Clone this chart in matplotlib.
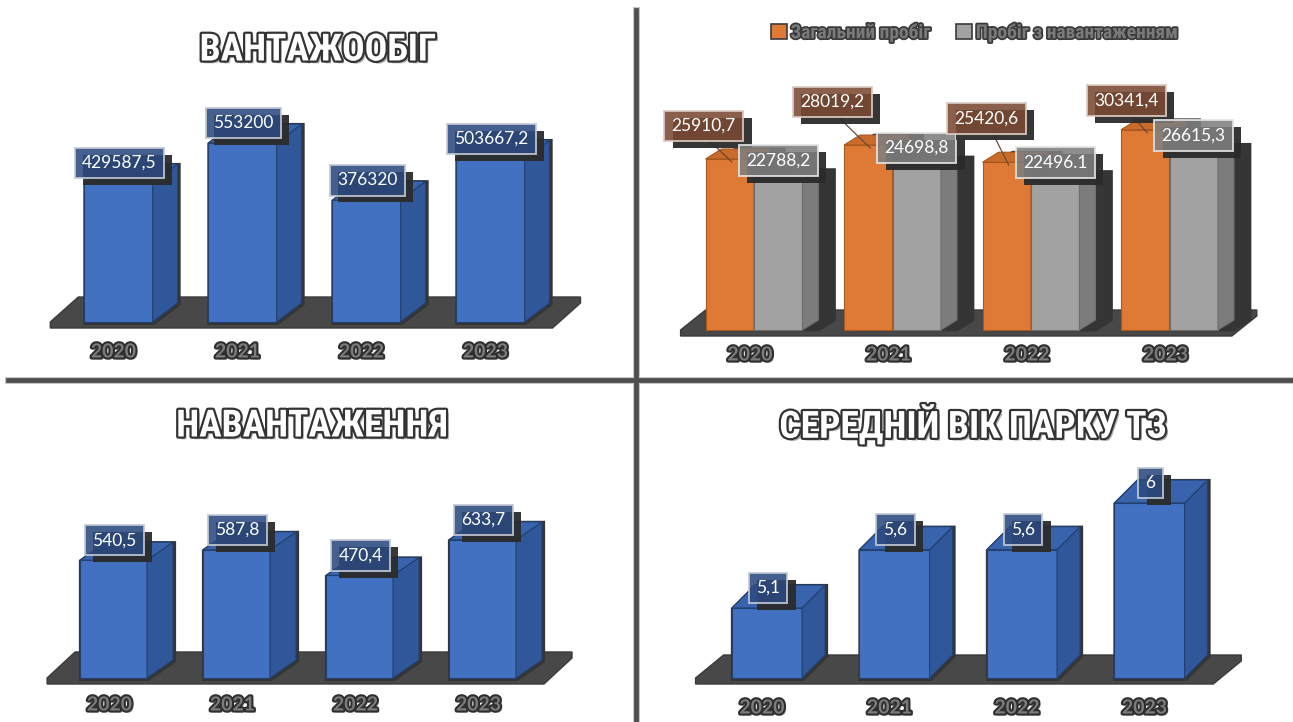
import matplotlib
matplotlib.use("Agg")
import matplotlib.pyplot as plt
import matplotlib.patheffects as pe
from matplotlib.patches import Polygon, Patch
from matplotlib.lines import Line2D
from matplotlib.transforms import offset_copy

# --- data -------------------------------------------------------------
years = ["2020", "2021", "2022", "2023"]

cargo_turnover = [429587.5, 553200, 376320, 503667.2]
cargo_labels = ["429587,5", "553200", "376320", "503667,2"]

total_mileage = [25910.7, 28019.2, 25420.6, 30341.4]
total_labels = ["25910,7", "28019,2", "25420,6", "30341,4"]
loaded_mileage = [22788.2, 24698.8, 22496.1, 26615.3]
loaded_labels = ["22788,2", "24698,8", "22496.1", "26615,3"]
series_names = ["Загальний пробіг", "Пробіг з навантаженням"]

load_volume = [540.5, 587.8, 470.4, 633.7]
load_labels = ["540,5", "587,8", "470,4", "633,7"]

fleet_age = [5.1, 5.6, 5.6, 6]
age_labels = ["5,1", "5,6", "5,6", "6"]

# --- styling ----------------------------------------------------------
W, H = 1293, 722
CYR = ["Roboto Condensed", "Roboto", "DejaVu Sans"]
NUM = ["Lato", "DejaVu Sans"]
PT = 0.72  # points per pixel at dpi=100

BLUE = ("#4371c1", "#30579a", "#3a63ad", "#22406f")
ORANGE = ("#de7a35", "#b45c22", "#c96b2b", "#a9561f")
GREY = ("#a2a2a2", "#7c7c7c", "#8d8d8d", "#6e6e6e")

fig = plt.figure(figsize=(W / 100, H / 100), dpi=100)
fig.patch.set_facecolor("white")


def panel_axes(c0, step, base, ppv, y0=0.0):
    """Full-figure axes: category 0 sits at pixel c0, baseline value y0 at pixel row base."""
    ax = fig.add_axes([0, 0, 1, 1])
    ax.set_axis_off()
    ax.patch.set_alpha(0)
    ax.set_xlim(-c0 / step, (W - c0) / step)
    b = H - base
    ax.set_ylim(y0 - b / ppv, y0 + (H - b) / ppv)
    return ax, 1.0 / step, 1.0 / ppv


def shifted(ax, dx, dy):
    return offset_copy(ax.transData, fig=fig, x=dx, y=dy, units="dots")


def floor(ax, sx, sy, y0, left, right, depth, thick=6):
    fdx, fdy = depth[0] * sx, depth[1] * sy
    t = thick * sy
    pts = [(left, y0 - t), (right, y0 - t), (right + fdx, y0 + fdy - t),
           (right + fdx, y0 + fdy), (left + fdx, y0 + fdy), (left, y0)]
    ax.add_patch(Polygon(pts, closed=True, fc="#484848", ec="#3a3a3a", lw=1, zorder=1))


def bar3d(ax, sx, sy, x, val, y0, width, depth, colors, shadow=(1, -1), shadow_lw=3):
    front, side, top, edge = colors
    dx, dy = depth[0] * sx, depth[1] * sy
    x0, x1 = x - width / 2, x + width / 2
    outline = [(x0, y0), (x1, y0), (x1 + dx, y0 + dy), (x1 + dx, val + dy),
               (x0 + dx, val + dy), (x0, val)]
    ax.add_patch(Polygon(outline, closed=True, fc="#353535", ec="#353535", lw=shadow_lw,
                         transform=shifted(ax, *shadow), zorder=2))
    ax.bar(x, val - y0, width, bottom=y0, color=front, edgecolor=edge, lw=0.8, zorder=3)
    ax.add_patch(Polygon([(x1, y0), (x1 + dx, y0 + dy), (x1 + dx, val + dy), (x1, val)],
                         closed=True, fc=side, ec=edge, lw=0.8, zorder=3))
    ax.add_patch(Polygon([(x0, val), (x1, val), (x1 + dx, val + dy), (x0 + dx, val + dy)],
                         closed=True, fc=top, ec=edge, lw=0.8, zorder=3))


def tag(ax, x, y, text, face, edge, shift=(1, 12), size=12.5):
    sx, sy = shift
    ann = ax.annotate(text, xy=(x, y), xytext=(sx * PT, sy * PT), textcoords="offset points",
                      ha="center", va="bottom", fontsize=size, family=NUM, color="white",
                      zorder=6, annotation_clip=False,
                      bbox=dict(boxstyle="square,pad=0.42", fc=face, ec=edge, lw=1.4, alpha=0.88))
    # dark drop shadow under the tag box
    ann.get_bbox_patch().set_path_effects([
        pe.SimplePatchShadow(offset=(6, -5), shadow_rgbFace="#2b2b2b", alpha=0.95),
        pe.Normal()])


def year_labels(ax, sy, y0, xs, below=30):
    for x, yr in zip(xs, years):
        ax.text(x, y0 - below * sy, yr, ha="center", va="center", fontsize=14,
                family=NUM, weight="bold", color="#7c7c7c", zorder=4,
                path_effects=[pe.SimplePatchShadow(offset=(1.5, -1.5), shadow_rgbFace="#999", alpha=0.7),
                              pe.Stroke(linewidth=3, foreground="#2e2e2e"), pe.Normal()])


def title(x, y, text):
    fig.text(x / W, 1 - y / H, text, ha="center", va="center", fontsize=27,
             family=CYR, weight="bold", color="white",
             path_effects=[pe.SimplePatchShadow(offset=(2, -2), shadow_rgbFace="#9a9a9a", alpha=0.8),
                           pe.Stroke(linewidth=3.2, foreground="#333333"), pe.Normal()])


xs = list(range(len(years)))

# --- ВАНТАЖООБІГ --------------------------------------------------------
ax1, sx1, sy1 = panel_axes(118.5, 124, 322, 179 / 553200)
floor(ax1, sx1, sy1, 0, -0.55, 3.5, (28, 25))
for x, v, lab in zip(xs, cargo_turnover, cargo_labels):
    bar3d(ax1, sx1, sy1, x, v, 0, 0.55, (25, 19), BLUE)
    tag(ax1, x, v, lab, "#2b4a80", "#c3c9d4")
year_labels(ax1, sy1, 0, [x - 5 * sx1 for x in xs])
title(318, 50, "ВАНТАЖООБІГ")

# --- пробіг -------------------------------------------------------------
ax2, sx2, sy2 = panel_axes(754, 138.5, 330, 0.0066)
floor(ax2, sx2, sy2, 0, -0.53, 3.45, (25, 20))
bw = 0.35
orange_shift = [(-26, 25), (-36, 35), (-20, 36), (-19, 21)]
for x, v1, v2, l1, l2, sh in zip(xs, total_mileage, loaded_mileage, total_labels, loaded_labels, orange_shift):
    bar3d(ax2, sx2, sy2, x - bw / 2, v1, 0, bw, (16, 10), ORANGE, shadow=(14, 0), shadow_lw=2)
    bar3d(ax2, sx2, sy2, x + bw / 2, v2, 0, bw, (16, 10), GREY, shadow=(16, 0), shadow_lw=2)
    # leader line from the orange tag down to its bar
    lx = x - bw / 2
    ax2.plot([lx + (sh[0] + 6) * sx2, lx + 2 * sx2], [v1 + (sh[1] - 7) * sy2, v1 - 3 * sy2],
             color="#6a4a3c", lw=0.9, zorder=4.5)
    tag(ax2, lx, v1, l1, "#7a4a33", "#dccbc2", shift=sh)
    tag(ax2, x + bw / 2, v2, l2, "#7f7f7f", "#e4e4e4", shift=(0, 11))
year_labels(ax2, sy2, 0, [x - 4 * sx2 for x in xs], below=25)

handles = [Patch(fc=ORANGE[0], ec="#3a3a3a", lw=1.2), Patch(fc=GREY[0], ec="#3a3a3a", lw=1.2)]
leg = fig.legend(handles, series_names, loc="center", bbox_to_anchor=(975 / W, 1 - 33 / H),
                 ncol=2, frameon=False, handlelength=0.8, handleheight=0.8,
                 handletextpad=0.2, columnspacing=1.3,
                 prop=dict(family=CYR, weight="bold", size=14))
for t in leg.get_texts():
    t.set_color("#7a7a7a")
    t.set_path_effects([pe.Stroke(linewidth=2.5, foreground="#3a3a3a"), pe.Normal()])

# --- НАВАНТАЖЕННЯ -------------------------------------------------------
ax3, sx3, sy3 = panel_axes(113.5, 123, 678, 0.218)
floor(ax3, sx3, sy3, 0, -0.54, 3.5, (28, 26))
for x, v, lab in zip(xs, load_volume, load_labels):
    bar3d(ax3, sx3, sy3, x, v, 0, 0.545, (26, 18), BLUE)
    tag(ax3, x, v, lab, "#2b4a80", "#c3c9d4")
year_labels(ax3, sy3, 0, [x - 4 * sx3 for x in xs], below=27)
title(312, 426, "НАВАНТАЖЕННЯ")

# --- СЕРЕДНІЙ ВІК ПАРКУ ТЗ ---------------------------------------------
age_base = 4.5
ax4, sx4, sy4 = panel_axes(767, 127.5, 678, 175 / 1.5, y0=age_base)
floor(ax4, sx4, sy4, age_base, -0.56, 3.5, (28, 23))
for x, v, lab in zip(xs, fleet_age, age_labels):
    bar3d(ax4, sx4, sy4, x, v, age_base, 0.55, (23, 23), BLUE)
    tag(ax4, x, v, lab, "#2b4a80", "#c3c9d4")
year_labels(ax4, sy4, age_base, [x - 5 * sx4 for x in xs])
title(973, 425, "СЕРЕДНІЙ ВІК ПАРКУ ТЗ")

# --- panel dividers -----------------------------------------------------
for lw, c in [(5, "#c4c4c4"), (3.4, "#4e4e4e")]:
    fig.add_artist(Line2D([636 / W, 636 / W], [0, 1 - 10 / H], transform=fig.transFigure,
                          color=c, lw=lw, zorder=10))
    fig.add_artist(Line2D([8 / W, 1], [1 - 380 / H, 1 - 380 / H], transform=fig.transFigure,
                          color=c, lw=lw, zorder=10))

fig.savefig("out.png", dpi=100, facecolor="white")
